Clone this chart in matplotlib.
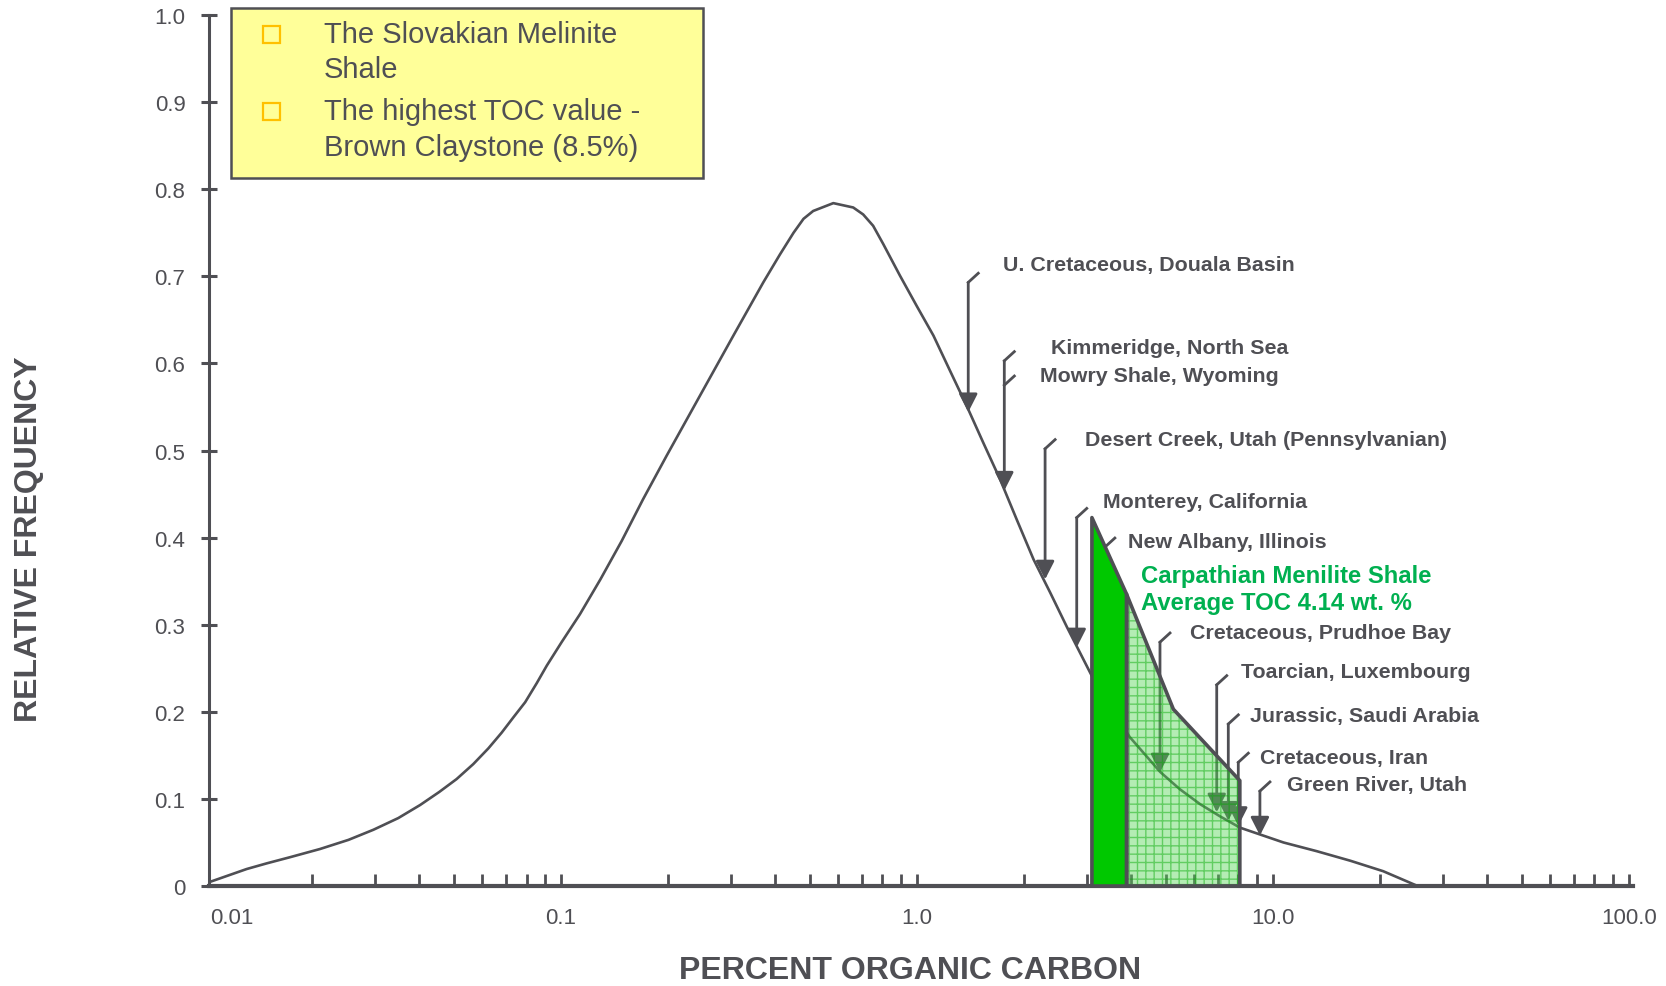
import numpy as np
import matplotlib
matplotlib.use('Agg')
import matplotlib.pyplot as plt
from matplotlib.patches import Polygon, Rectangle
from matplotlib.ticker import LogLocator, NullFormatter

plt.rcParams['font.family'] = ['Liberation Sans', 'DejaVu Sans']
plt.rcParams['hatch.linewidth'] = 1.0

GREY = '#4f4f54'
GREEN_TEXT = '#00b050'

# distribution of organic carbon
toc = [0.0102, 0.01309, 0.0149, 0.0173, 0.02104, 0.0253, 0.02972, 0.0349,
       0.0402, 0.0455, 0.0509, 0.0567, 0.0625, 0.0681, 0.0735, 0.0793, 0.0855,
       0.0912, 0.1004, 0.1130, 0.129, 0.148, 0.170, 0.198, 0.2457, 0.305, 0.370,
       0.412, 0.450, 0.480, 0.511, 0.582, 0.662, 0.706, 0.753, 0.804, 0.895,
       0.998, 1.112, 1.238, 1.380, 1.535, 1.711, 1.905, 2.125, 2.366, 2.64,
       3.10, 3.48, 3.96, 4.82, 5.48, 6.24, 7.10, 8.08, 10.7, 13.27, 16.5,
       20.4, 25.5]
freq = [0.004, 0.0195, 0.026, 0.033, 0.0425, 0.053, 0.0646, 0.078,
        0.093, 0.108, 0.1228, 0.140, 0.158, 0.176, 0.1937, 0.211, 0.233,
        0.253, 0.280, 0.312, 0.352, 0.396, 0.444, 0.494, 0.563, 0.632, 0.693,
        0.725, 0.750, 0.766, 0.775, 0.784, 0.779, 0.771, 0.758, 0.737, 0.701,
        0.666, 0.632, 0.5916, 0.551, 0.509, 0.467, 0.421, 0.375, 0.337, 0.297,
        0.241, 0.207, 0.171, 0.131, 0.111, 0.094, 0.080, 0.067, 0.050, 0.040,
        0.029, 0.017, 0.0]

# Slovakian Menilite shale (solid) and range up to highest TOC (hatched)
menilite_x = [3.10, 3.10, 3.88, 3.88]
menilite_y = [0.0, 0.423, 0.335, 0.0]
highest_x = [3.88, 3.88, 5.25, 8.07, 8.07]
highest_y = [0.0, 0.335, 0.203, 0.121, 0.0]

# reference shales: arrow position on the curve
arrow_toc = [1.393, 1.759, 2.29, 2.81, 3.37, 4.815, 6.95, 7.49, 7.99, 9.19]
arrow_freq = [0.544, 0.454, 0.352, 0.274, 0.20, 0.1305, 0.0846, 0.075, 0.069, 0.058]
arrow_top = [0.693, 0.603, 0.502, 0.423, 0.389, 0.280, 0.231, 0.186, 0.142, 0.109]

labels = ['U. Cretaceous, Douala Basin', 'Kimmeridge, North Sea',
          'Mowry Shale, Wyoming', 'Desert Creek, Utah (Pennsylvanian)',
          'Monterey, California', 'New Albany, Illinois',
          'Cretaceous, Prudhoe Bay', 'Toarcian, Luxembourg',
          'Jurassic, Saudi Arabia', 'Cretaceous, Iran', 'Green River, Utah']
label_x = [1.745, 2.375, 2.216, 2.965, 3.337, 3.922, 5.85, 8.12, 8.62, 9.19, 10.97]
label_y = [0.714, 0.618, 0.586, 0.513, 0.442, 0.395, 0.2905, 0.2465, 0.1955, 0.1478, 0.117]

legend_lines = ['The Slovakian Melinite', 'Shale', 'The highest TOC value -',
                'Brown Claystone (8.5%)']

fig = plt.figure(figsize=(16.66, 9.87), dpi=100)
ax = fig.add_axes([0.12545, 0.1013, 0.8547, 0.8825])

ax.plot(toc, freq, color=GREY, lw=1.9, zorder=2, solid_joinstyle='round')

# arrows with little hooks
for x, tip, top in zip(arrow_toc, arrow_freq, arrow_top):
    ax.annotate('', xy=(x, tip), xytext=(x, top), zorder=3,
                arrowprops=dict(arrowstyle='-|>,head_length=0.55,head_width=0.28',
                                color=GREY, lw=2.0, shrinkA=0, shrinkB=0,
                                mutation_scale=20))
    ax.plot([x, x * 1.067], [top, top + 0.0105], color=GREY, lw=2.0, zorder=3)
# second hook on the Kimmeridge / Mowry arrow
ax.plot([arrow_toc[1], arrow_toc[1] * 1.067], [0.575, 0.5855], color=GREY, lw=2.0, zorder=3)

ax.add_patch(Polygon(list(zip(menilite_x, menilite_y)), closed=True,
                     facecolor='#00c800', edgecolor='none', zorder=4))
ax.add_patch(Polygon(list(zip(highest_x, highest_y)), closed=True,
                     facecolor='#5ad65a', edgecolor='#00a800', hatch='++',
                     lw=0, alpha=0.45, zorder=4))
for px, py in [(menilite_x, menilite_y), (highest_x, highest_y)]:
    ax.add_patch(Polygon(list(zip(px, py)), closed=True, fill=False,
                         edgecolor=GREY, lw=2.6, joinstyle='round', zorder=5))

for txt, x, y in zip(labels, label_x, label_y):
    ax.text(x, y, txt, ha='left', va='center', fontsize=15.4,
            fontweight='bold', color=GREY, zorder=6)
ax.text(4.25, 0.357, 'Carpathian Menilite Shale', ha='left', va='center',
        fontsize=17.2, fontweight='bold', color=GREEN_TEXT, zorder=6)
ax.text(4.25, 0.325, 'Average TOC 4.14 wt. %', ha='left', va='center',
        fontsize=17.2, fontweight='bold', color=GREEN_TEXT, zorder=6)

# axes
ax.set_xscale('log')
ax.set_xlim(0.01026, 102.6)
ax.set_ylim(0, 1.0)
ax.spines['top'].set_visible(False)
ax.spines['right'].set_visible(False)
ax.spines['left'].set_linewidth(2.2)
ax.spines['bottom'].set_linewidth(3.0)
ax.spines['left'].set_color(GREY)
ax.spines['bottom'].set_color(GREY)

ax.set_xticks([0.1, 1, 10, 100])
ax.set_xticklabels(['0.1', '1.0', '10.0', '100.0'])
ax.xaxis.set_minor_locator(LogLocator(base=10, subs=np.arange(2, 10)))
ax.xaxis.set_minor_formatter(NullFormatter())
ax.tick_params(axis='x', which='both', direction='in', length=9, width=2,
               color=GREY, labelcolor=GREY, labelsize=16, pad=15)
ax.annotate('0.01', xy=(0.0119, 0), xycoords=('data', 'axes fraction'),
            xytext=(0, -15), textcoords='offset points', ha='center', va='top',
            fontsize=16, color=GREY)

yt = np.round(np.arange(0, 1.01, 0.1), 1)
ax.set_yticks(yt)
ax.set_yticklabels(['0'] + [f'{v:.1f}' for v in yt[1:]])
ax.tick_params(axis='y', direction='inout', length=12, width=2.2,
               color=GREY, labelcolor=GREY, labelsize=16, pad=11)

fig.text(0.546, 0.0162, 'PERCENT ORGANIC CARBON', ha='center', va='center',
         fontsize=23, fontweight='bold', color=GREY)
fig.text(0.0174, 0.454, 'RELATIVE FREQUENCY', ha='center', va='center',
         rotation=90, fontsize=23, fontweight='bold', color=GREY)

# legend box
fig.add_artist(Rectangle((0.1387, 0.8186), 0.2833, 0.1722, transform=fig.transFigure,
                         facecolor='#ffff99', edgecolor=GREY, lw=1.8, zorder=7))
for yc in [0.9645, 0.8865]:
    fig.add_artist(Rectangle((0.1576, yc - 0.0086), 0.0102, 0.0172,
                             transform=fig.transFigure, facecolor='none',
                             edgecolor='#ffc000', lw=1.6, zorder=8))
for txt, yc in zip(legend_lines, [0.9645, 0.9291, 0.8865, 0.850]):
    fig.text(0.1945, yc, txt, ha='left', va='center', fontsize=21,
             color=GREY, zorder=8)

fig.savefig('out.png', dpi=100)
